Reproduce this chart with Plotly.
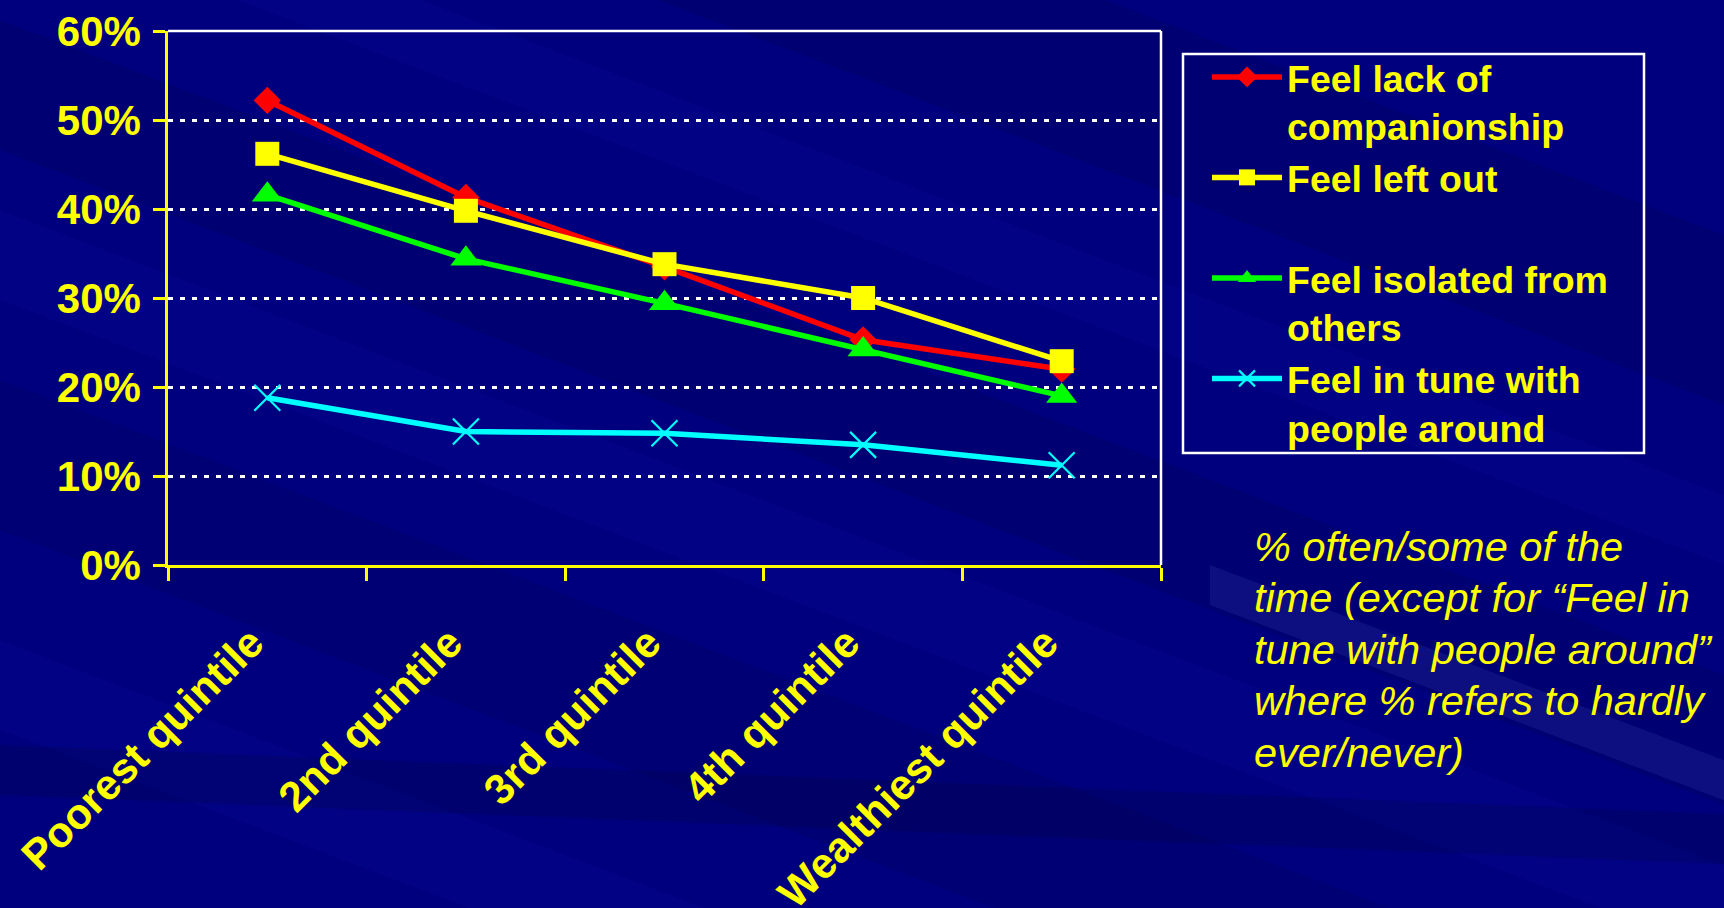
import plotly.graph_objects as go

# Survey results by income quintile (% of respondents)
quintiles = ["Poorest quintile", "2nd quintile", "3rd quintile", "4th quintile", "Wealthiest quintile"]
lack_companionship = [52.2, 41.3, 33.5, 25.3, 22.0]
left_out = [46.2, 39.8, 33.8, 30.0, 22.9]
isolated = [41.6, 34.4, 29.4, 24.2, 19.0]
in_tune = [18.8, 15.0, 14.8, 13.5, 11.2]

series_names = [
    "Feel lack of<br>companionship",
    "Feel left out<br> ",
    "Feel isolated from<br>others",
    "Feel in tune with<br>people around",
]
note_lines = [
    "% often/some of the",
    "time (except for \u201cFeel in",
    "tune with people around\u201d",
    "where % refers to hardly",
    "ever/never)",
]

W, H = 1724, 908
ML, MR, MT, MB = 168, 563, 31, 343
PW, PH = W - ML - MR, H - MT - MB

FONT = "Liberation Sans, Arial, sans-serif"
YELLOW = "#ffff00"
BG = "#00007f"


def px(x, y):
    """Pixel position on the canvas -> paper coordinates."""
    return (x - ML) / PW, (H - MB - y) / PH


def band(x0, x1, y0, thick, slope, color):
    a = px(x0, y0)
    b = px(x1, y0 + slope * (x1 - x0))
    c = px(x1, y0 + slope * (x1 - x0) + thick)
    d = px(x0, y0 + thick)
    path = "M{:.4f},{:.4f} L{:.4f},{:.4f} L{:.4f},{:.4f} L{:.4f},{:.4f} Z".format(
        a[0], a[1], b[0], b[1], c[0], c[1], d[0], d[1])
    return dict(type="path", xref="paper", yref="paper", path=path,
                fillcolor=color, line=dict(width=0), layer="below")


fig = go.Figure()

styles = [
    (lack_companionship, "#ff0000", dict(symbol="diamond", size=21)),
    (left_out, "#ffff00", dict(symbol="square", size=24)),
    (isolated, "#00ff00", dict(symbol="triangle-up", size=27)),
    (in_tune, "#00ffff", dict(symbol="x-thin", size=26, line=dict(width=2.2, color="#00ffff"))),
]
for (vals, color, marker), name in zip(styles, series_names):
    m = dict(color=color)
    m.update(marker)
    fig.add_trace(go.Scatter(
        x=quintiles, y=vals, name=name, mode="lines+markers",
        line=dict(color=color, width=5.5),
        marker=m,
    ))

# soft diagonal background streaks
shapes = [
    band(0, W, -420, 170, 0.38, "rgba(0,0,50,0.16)"),
    band(0, W, -160, 70, 0.38, "rgba(30,40,190,0.08)"),
    band(0, W, 20, 130, 0.38, "rgba(0,0,50,0.16)"),
    band(0, W, 210, 90, 0.38, "rgba(30,40,190,0.08)"),
    band(0, W, 380, 150, 0.38, "rgba(0,0,50,0.14)"),
    band(0, W, 640, 90, 0.38, "rgba(30,40,190,0.08)"),
    band(0, W, 745, 50, 0.04, "rgba(0,0,40,0.18)"),
    band(1210, W, 565, 40, 0.38, "rgba(110,120,230,0.12)"),
]
# top and right frame of the plot area
shapes.append(dict(type="line", xref="paper", yref="paper", x0=0, x1=1, y0=1, y1=1,
                   line=dict(color="white", width=2.5)))
shapes.append(dict(type="line", xref="paper", yref="paper", x0=1, x1=1, y0=0, y1=1,
                   line=dict(color="white", width=2.5)))
# legend frame
bx0, by0 = px(1183, 54)
bx1, by1 = px(1644, 453)
shapes.append(dict(type="rect", xref="paper", yref="paper", x0=bx0, y0=by0, x1=bx1, y1=by1,
                   line=dict(color="white", width=2.5), fillcolor="rgba(0,0,0,0)"))

lx, ly = px(1207, 46)

annotations = []
line_centres = [546, 597, 649, 700, 752]
for text, yc in zip(note_lines, line_centres):
    ax, ay = px(1253, yc)
    annotations.append(dict(
        xref="paper", yref="paper", x=ax, y=ay, xanchor="left", yanchor="middle",
        align="left", showarrow=False, text=text, borderpad=0,
        font=dict(family=FONT, size=41.5, color=YELLOW, style="italic"),
    ))

fig.update_layout(
    width=W, height=H,
    margin=dict(l=ML, r=MR, t=MT, b=MB, autoexpand=False),
    paper_bgcolor=BG,
    plot_bgcolor="rgba(0,0,0,0)",
    shapes=shapes,
    showlegend=True,
    legend=dict(
        x=lx, y=ly, xanchor="left", yanchor="top",
        bgcolor="rgba(0,0,0,0)", borderwidth=0,
        font=dict(family=FONT, size=37.5, color=YELLOW, weight="bold"),
        itemwidth=70, valign="top", tracegroupgap=0,
    ),
    xaxis=dict(
        type="category", range=[-0.5, 4.5], tickson="boundaries",
        ticks="outside", ticklen=13, tickwidth=2.5, tickcolor=YELLOW,
        showline=True, linecolor=YELLOW, linewidth=2.5, showgrid=False,
        tickangle=-45, ticklabelstandoff=33, ticklabelshift=-16,
        tickfont=dict(family=FONT, size=42.5, color=YELLOW, weight="bold"),
        fixedrange=True, automargin=False,
    ),
    yaxis=dict(
        range=[0, 60], dtick=10, ticksuffix="%",
        showgrid=True, gridcolor="white", gridwidth=2.5, griddash="5px,7px",
        showline=True, linecolor=YELLOW, linewidth=2.5,
        ticks="outside", ticklen=12, tickwidth=2.5, tickcolor=YELLOW,
        ticklabelstandoff=4,
        tickfont=dict(family=FONT, size=42, color=YELLOW, weight="bold"),
        zeroline=False, fixedrange=True, automargin=False,
    ),
    annotations=annotations,
)

fig.write_html("out.html", config=dict(displayModeBar=False))
